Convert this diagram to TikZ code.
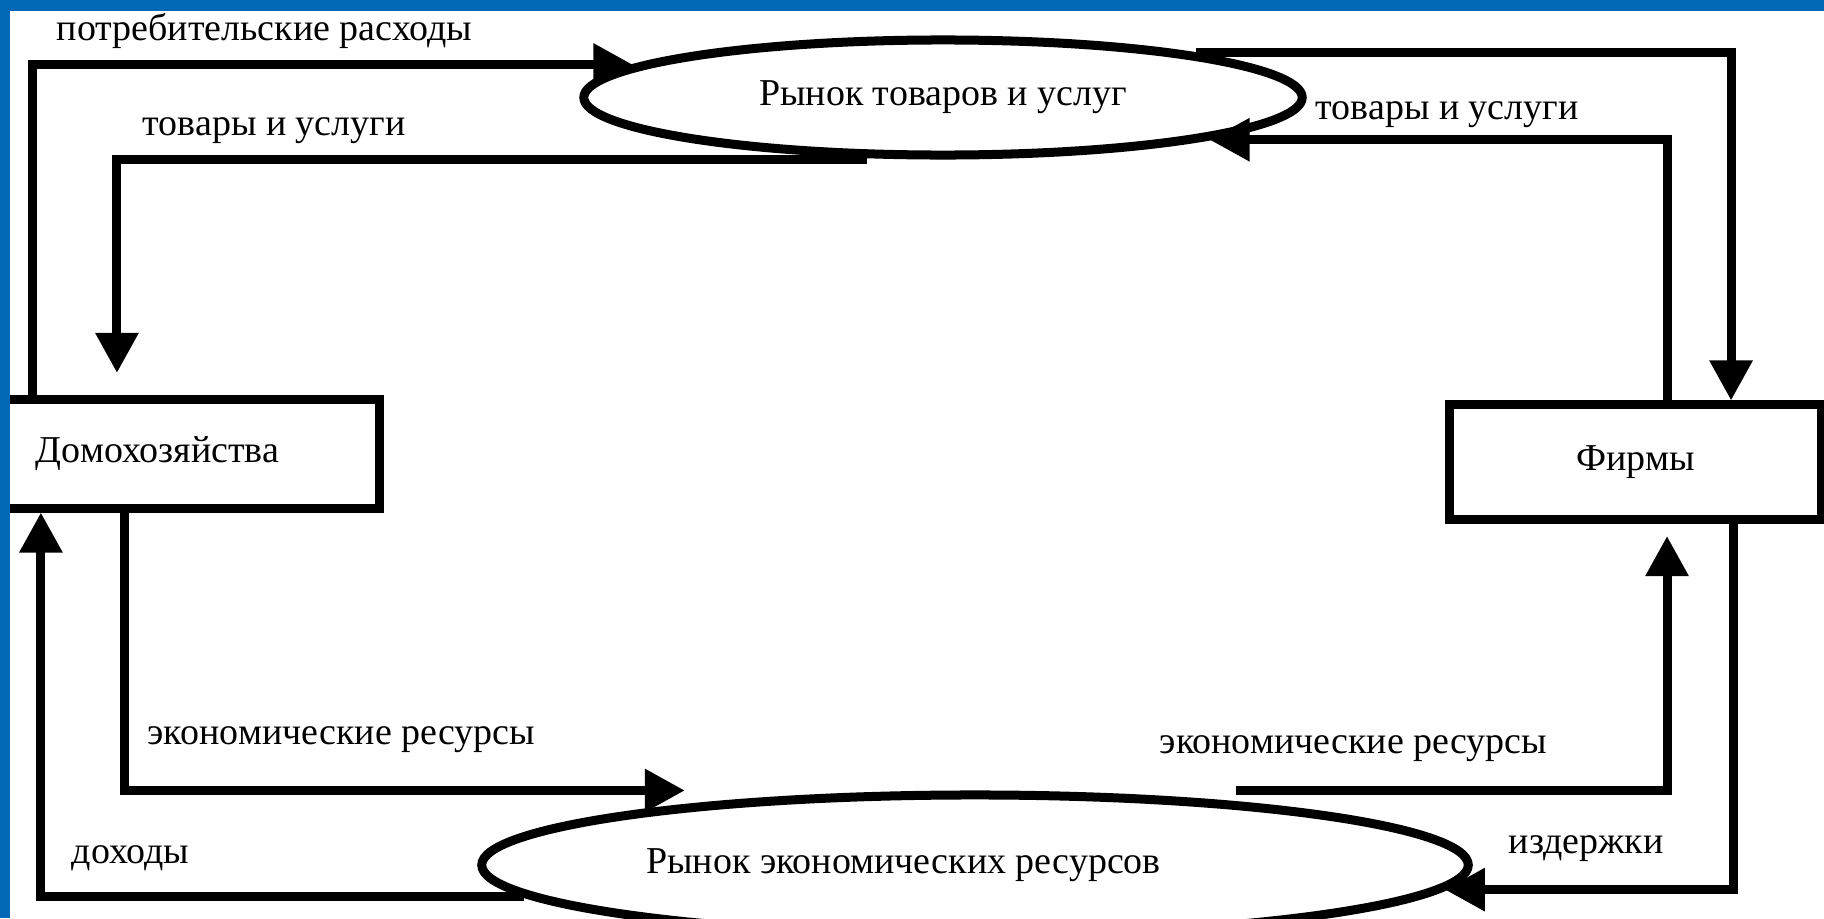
\documentclass[tikz,border=0pt]{standalone}
\usepackage{fontspec}
\setmainfont{Liberation Serif}
\usetikzlibrary{arrows.meta,shapes.geometric}
\definecolor{slideblue}{RGB}{0,104,182}

\begin{document}
\begin{tikzpicture}[
  x=0.01cm, y=-0.01cm,
  font=\fontsize{10.8pt}{13pt}\selectfont,
  agent/.style={rectangle, draw=black, line width=0.09cm, inner sep=0pt},
  market/.style={ellipse, draw=black, line width=0.09cm, inner sep=0pt},
  flow/.style={-{Triangle[length=0.4cm, width=0.41cm]}, line width=0.09cm},
  tag/.style={anchor=base west, inner sep=0pt}
]
\useasboundingbox (0,0) rectangle (1824,918);
\fill[white] (0,0) rectangle (1824,918);

% ── agents ───────────────────────────────────────────────────────────────────
\node[agent, minimum width=3.75cm, minimum height=1.08cm, text width=3.11cm,
      inner xsep=0.32cm, align=left] (hh) at (191.5,454) {Домохозяйства};
\node[agent, minimum width=3.71cm, minimum height=1.145cm] (firms) at (1635.5,462.25) {Фирмы};

% ── markets ──────────────────────────────────────────────────────────────────
\node[market, minimum width=7.18cm, minimum height=1.15cm] (goodsmkt) at (943,97.5)
  {Рынок товаров и услуг};
\node[market, minimum width=9.86cm, minimum height=1.40cm,
      label={[xshift=-0.715cm]center:Рынок экономических ресурсов}] (resmkt) at (975,865) {};

% ── flows ────────────────────────────────────────────────────────────────────
\draw[flow] ([xshift=-1.585cm]hh.north) |- (goodsmkt.174.7);
\draw[flow, shorten >=0.225cm] ([xshift=-0.76cm]goodsmkt.south) -| ([xshift=-0.745cm]hh.north);
\draw[flow] (goodsmkt.10) -| ([xshift=0.955cm]firms.north);
\draw[flow] ([xshift=0.315cm]firms.north) |- (goodsmkt.-9.5);
\draw[flow] ([xshift=-0.665cm]hh.south) |- ([xshift=-2.9cm]resmkt.north);
\draw[flow, shorten >=0.12cm] ([xshift=2.61cm]resmkt.north) -| ([xshift=0.315cm]firms.south);
\draw[flow] ([xshift=0.975cm]firms.south) |- (resmkt.-3.1);
\draw[flow] (resmkt.184.7) -| ([xshift=-1.505cm]hh.south);

% ── flow labels ──────────────────────────────────────────────────────────────
\node[tag] (spendlbl) at (56,40.7) {потребительские расходы};
\node[tag] (goodslbl) at (142,135) {товары и услуги};
\node[tag] (supplylbl) at (1315,119) {товары и услуги};
\node[tag] (factorlbl) at (147,744) {экономические ресурсы};
\node[tag] (inputlbl) at (1159,753) {экономические ресурсы};
\node[tag] (incomelbl) at (71,863) {доходы};
\node[tag] (costlbl) at (1508,853) {издержки};

% ── frame ────────────────────────────────────────────────────────────────────
\fill[slideblue] (0,0) rectangle (1824,11);
\fill[slideblue] (0,0) rectangle (10,918);
\end{tikzpicture}
\end{document}
